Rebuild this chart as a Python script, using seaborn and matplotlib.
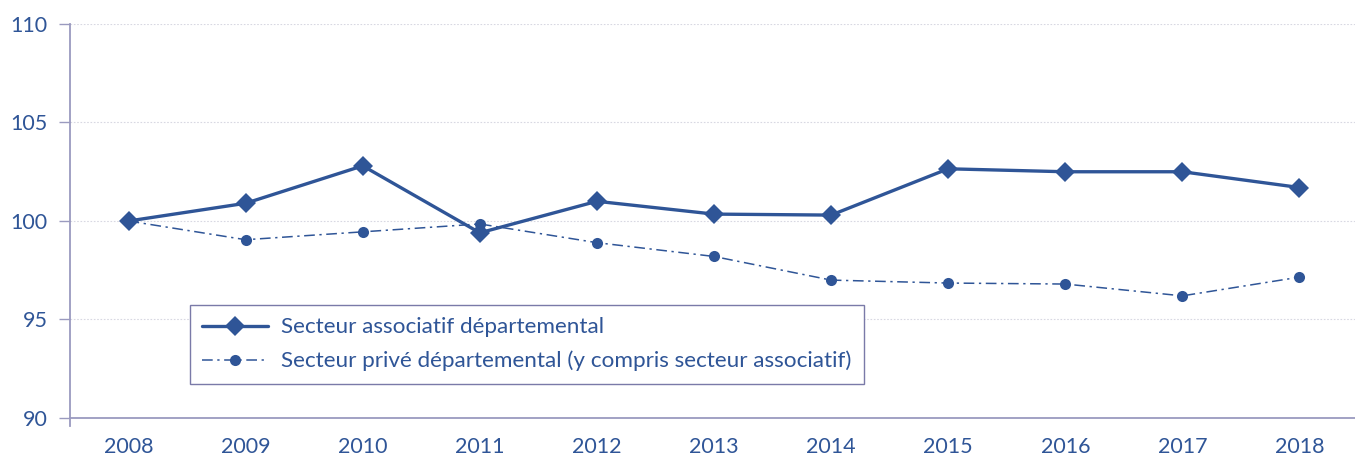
import pandas as pd
import matplotlib.pyplot as plt
import seaborn as sns

# data (index, base 100 in 2008)
years = ['2008', '2009', '2010', '2011', '2012', '2013', '2014', '2015', '2016', '2017', '2018']
associatif = [100.0, 100.9, 102.8, 99.4, 101.0, 100.35, 100.3, 102.65, 102.5, 102.5, 101.7]
prive = [100.0, 99.05, 99.45, 99.85, 98.9, 98.2, 97.0, 96.85, 96.8, 96.2, 97.15]

label_asso = 'Secteur associatif départemental'
label_prive = 'Secteur privé départemental (y compris secteur associatif)'

blue = '#2F5597'
axis_col = '#9A9ABF'

sns.set_style('white')
plt.rcParams['font.family'] = ['Lato', 'DejaVu Sans']

df = pd.DataFrame({'annee': years, 'asso': associatif, 'prive': prive})

fig = plt.figure(figsize=(13.55, 4.59), dpi=100)
ax = fig.add_axes([70 / 1355, 41 / 459, 1288 / 1355, 394 / 459])

sns.lineplot(data=df, x='annee', y='asso', ax=ax, color=blue, lw=2.4,
             marker='D', markersize=10, markeredgewidth=0, label=label_asso, sort=False)
sns.lineplot(data=df, x='annee', y='prive', ax=ax, color=blue, lw=1.1,
             marker='o', markersize=8, markeredgewidth=0, label=label_prive, sort=False)
ax.lines[1].set_dashes([7, 3, 1.5, 3])

ax.set_xlim(-0.5, 10.5)
ax.set_ylim(90, 110)
ax.set_yticks([90, 95, 100, 105, 110])
ax.set_xlabel('')
ax.set_ylabel('')

# grid
for v in [95, 100, 105, 110]:
    ax.axhline(v, color='#D8D8E2', lw=0.8, ls=(0, (1.5, 1.5)), zorder=0)

# spines / ticks
for s in ['top', 'right']:
    ax.spines[s].set_visible(False)
ax.spines['left'].set_color(axis_col)
ax.spines['bottom'].set_color(axis_col)
ax.spines['left'].set_linewidth(1.3)
ax.spines['bottom'].set_linewidth(1.3)
ax.spines['left'].set_bounds(89.6, 110)

ax.set_xticks(range(len(years)))
ax.set_xticklabels(years)
ax.set_xticks([i + 0.5 for i in range(-1, len(years))], minor=True)
ax.tick_params(axis='x', which='major', length=0, pad=14, labelsize=15.5, labelcolor=blue)
ax.tick_params(axis='x', which='minor', direction='inout', length=12, width=1.0, color=axis_col)
ax.tick_params(axis='y', which='major', direction='out', length=8, width=1.0, color=axis_col,
               pad=8, labelsize=15.5, labelcolor=blue, left=True)

leg = ax.legend(loc='upper left', bbox_to_anchor=(120 / 1288, 113 / 394), borderaxespad=0,
                frameon=True, fancybox=False, framealpha=1, edgecolor='#7A7AA8',
                fontsize=16.2, handlelength=2.9, handletextpad=0.6, borderpad=0.55,
                labelspacing=0.6, labelcolor=blue)
leg.get_frame().set_linewidth(1.0)

fig.savefig('out.png', dpi=100)
